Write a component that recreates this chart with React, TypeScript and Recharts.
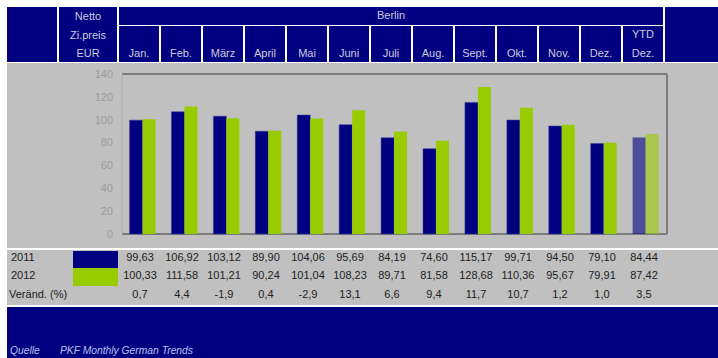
import { Bar, BarChart, CartesianGrid, Cell, XAxis, YAxis } from 'recharts'

const months = ['Jan.', 'Feb.', 'März', 'April', 'Mai', 'Juni', 'Juli', 'Aug.', 'Sept.', 'Okt.', 'Nov.', 'Dez.', 'Dez.']
const v2011 = [99.63, 106.92, 103.12, 89.9, 104.06, 95.69, 84.19, 74.6, 115.17, 99.71, 94.5, 79.1, 84.44]
const v2012 = [100.33, 111.58, 101.21, 90.24, 101.04, 108.23, 89.71, 81.58, 128.68, 110.36, 95.67, 79.91, 87.42]
const change = [0.7, 4.4, -1.9, 0.4, -2.9, 13.1, 6.6, 9.4, 11.7, 10.7, 1.2, 1.0, 3.5]
const yTicks = [0, 20, 40, 60, 80, 100, 120, 140]

const NAVY = '#000080'
const GREEN = '#99cc00'
const GREY = '#c0c0c0'
const HEAD_TEXT = '#ccccdc'
const FONT = '"Liberation Sans", Arial, sans-serif'

const data = months.map((m, i) => ({ key: `${m}-${i}`, y2011: v2011[i], y2012: v2012[i] }))

const fmt = (v: number, d: number) => v.toFixed(d).replace('.', ',')

const colLeft = (i: number) => 119 + 42 * i

function Box({ x, y, w, h, bg, children }: any) {
  return (
    <div style={{ position: 'absolute', left: x, top: y, width: w, height: h, background: bg }}>
      {children}
    </div>
  )
}

function Txt({ x, y, w, children, align = 'center', color = '#222', italic = false, size = 11 }: any) {
  return (
    <div
      style={{
        position: 'absolute',
        left: x,
        top: y - 7,
        width: w,
        height: 14,
        lineHeight: '14px',
        textAlign: align,
        color,
        fontSize: size,
        fontStyle: italic ? 'italic' : 'normal',
        whiteSpace: 'nowrap',
      }}
    >
      {children}
    </div>
  )
}

export default function App() {
  return (
    <div style={{ position: 'relative', width: 718, height: 358, background: '#fff', fontFamily: FONT, overflow: 'hidden' }}>
      <style>{'body{margin:0}'}</style>

      {/* header */}
      <Box x={7} y={7} w={50} h={55} bg={NAVY} />
      <Box x={59} y={7} w={58} h={55} bg={NAVY} />
      <Txt x={59} y={16} w={58} color={HEAD_TEXT}>Netto</Txt>
      <Txt x={59} y={35} w={58} color={HEAD_TEXT}>Zi.preis</Txt>
      <Txt x={59} y={53} w={58} color={HEAD_TEXT}>EUR</Txt>
      <Box x={119} y={7} w={544} h={18} bg={NAVY} />
      <Txt x={119} y={15} w={544} color={HEAD_TEXT}>Berlin</Txt>
      {months.map((m, i) => (
        <Box key={i} x={colLeft(i)} y={26} w={40} h={36} bg={NAVY} />
      ))}
      {months.map((m, i) => (
        <Txt key={i} x={colLeft(i)} y={53} w={40} color={HEAD_TEXT}>{m}</Txt>
      ))}
      <Txt x={colLeft(12)} y={34} w={40} color={HEAD_TEXT}>YTD</Txt>
      <Box x={665} y={7} w={53} h={55} bg={NAVY} />

      {/* chart area */}
      <Box x={7} y={63} w={711} h={185} bg={GREY} />
      <div style={{ position: 'absolute', left: 0, top: 63 }}>
        <BarChart
          width={718}
          height={185}
          data={data}
          margin={{ top: 11, right: 0, bottom: 14, left: 0 }}
          barCategoryGap="18%"
          barGap={0}
        >
          <CartesianGrid vertical={false} stroke="#7c7c7c" strokeWidth={2} />
          <XAxis dataKey="key" hide />
          <YAxis
            yAxisId="l"
            domain={[0, 140]}
            ticks={yTicks}
            width={122}
            tickLine={false}
            tickMargin={3}
            axisLine={{ stroke: '#acacac', strokeWidth: 1 }}
            tick={{ fill: '#9c9c9c', fontSize: 11, fontFamily: FONT }}
          />
          <YAxis
            yAxisId="r"
            orientation="right"
            domain={[0, 140]}
            width={51}
            tick={false}
            tickLine={false}
            axisLine={{ stroke: '#7c7c7c', strokeWidth: 2 }}
          />
          <Bar yAxisId="l" dataKey="y2011" fill={NAVY} stroke="#3a3a9a" strokeWidth={0.5} isAnimationActive={false}>
            {data.map((d, i) => (
              <Cell key={d.key} fillOpacity={i === 12 ? 0.6 : 1} strokeOpacity={i === 12 ? 0 : 1} />
            ))}
          </Bar>
          <Bar yAxisId="l" dataKey="y2012" fill={GREEN} isAnimationActive={false}>
            {data.map((d, i) => (
              <Cell key={d.key} fillOpacity={i === 12 ? 0.6 : 1} />
            ))}
          </Bar>
        </BarChart>
      </div>

      {/* table */}
      <Box x={7} y={250} w={711} h={55} bg={GREY} />
      <Box x={73} y={251} w={45} h={17} bg={NAVY} />
      <Box x={73} y={268} w={45} h={18} bg={GREEN} />
      <Txt x={11} y={257} w={60} align="left">2011</Txt>
      <Txt x={11} y={275} w={60} align="left">2012</Txt>
      <Txt x={9} y={294} w={80} align="left">Veränd. (%)</Txt>
      {months.map((m, i) => (
        <Txt key={`a${i}`} x={colLeft(i)} y={257} w={42}>{fmt(v2011[i], 2)}</Txt>
      ))}
      {months.map((m, i) => (
        <Txt key={`b${i}`} x={colLeft(i)} y={275} w={42}>{fmt(v2012[i], 2)}</Txt>
      ))}
      {months.map((m, i) => (
        <Txt key={`c${i}`} x={colLeft(i)} y={294} w={42}>{fmt(change[i], 1)}</Txt>
      ))}

      {/* footer */}
      <Box x={7} y={307} w={711} h={51} bg={NAVY} />
      <Txt x={10} y={351} w={50} align="left" color="#b8c0ec" italic size={10.3}>Quelle</Txt>
      <Txt x={60} y={351} w={200} align="left" color="#b8c0ec" italic size={10.3}>PKF Monthly German Trends</Txt>
    </div>
  )
}
